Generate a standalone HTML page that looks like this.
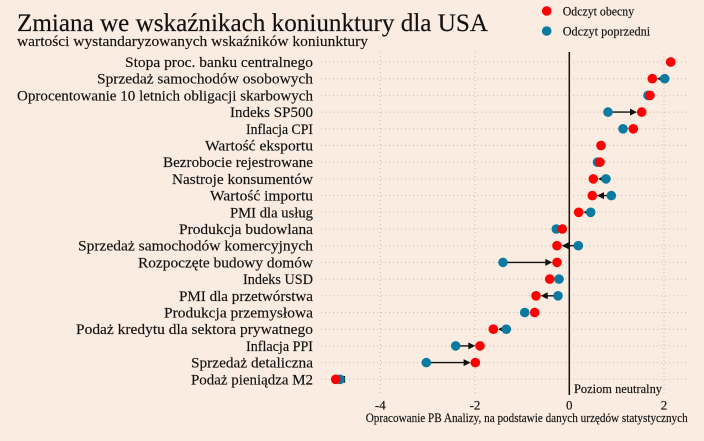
<!DOCTYPE html>
<html><head><meta charset="utf-8"><style>
html,body{margin:0;padding:0;background:#FAECE0;}
svg{display:block;}
text{font-family:"Liberation Serif",serif;fill:#111;stroke:#111;stroke-width:0.15;}
</style></head><body>
<svg width="704" height="441" viewBox="0 0 704 441" xmlns="http://www.w3.org/2000/svg">
<rect x="0" y="0" width="704" height="441" fill="#FAECE0"/>
<text x="17" y="31" font-size="25" textLength="471" lengthAdjust="spacingAndGlyphs">Zmiana we wskaźnikach koniunktury dla USA</text>
<text x="17" y="46" font-size="14.5" textLength="351" lengthAdjust="spacingAndGlyphs">wartości wystandaryzowanych wskaźników koniunktury</text>
<circle cx="546.7" cy="11" r="4.8" fill="#FF0000"/>
<circle cx="546.7" cy="31" r="4.8" fill="#0B7AA0"/>
<text x="562.7" y="15.5" font-size="13" textLength="71.5" lengthAdjust="spacingAndGlyphs">Odczyt obecny</text>
<text x="562.7" y="35.5" font-size="13" textLength="87.5" lengthAdjust="spacingAndGlyphs">Odczyt poprzedni</text>
<g stroke="#C9BDB2" stroke-width="1" stroke-dasharray="1,3">
<line x1="321" y1="62" x2="687" y2="62"/>
<line x1="321" y1="78.7" x2="687" y2="78.7"/>
<line x1="321" y1="95.4" x2="687" y2="95.4"/>
<line x1="321" y1="112.1" x2="687" y2="112.1"/>
<line x1="321" y1="128.8" x2="687" y2="128.8"/>
<line x1="321" y1="145.5" x2="687" y2="145.5"/>
<line x1="321" y1="162.2" x2="687" y2="162.2"/>
<line x1="321" y1="178.9" x2="687" y2="178.9"/>
<line x1="321" y1="195.6" x2="687" y2="195.6"/>
<line x1="321" y1="212.3" x2="687" y2="212.3"/>
<line x1="321" y1="229" x2="687" y2="229"/>
<line x1="321" y1="245.7" x2="687" y2="245.7"/>
<line x1="321" y1="262.4" x2="687" y2="262.4"/>
<line x1="321" y1="279.1" x2="687" y2="279.1"/>
<line x1="321" y1="295.8" x2="687" y2="295.8"/>
<line x1="321" y1="312.5" x2="687" y2="312.5"/>
<line x1="321" y1="329.2" x2="687" y2="329.2"/>
<line x1="321" y1="345.9" x2="687" y2="345.9"/>
<line x1="321" y1="362.6" x2="687" y2="362.6"/>
<line x1="321" y1="379.3" x2="687" y2="379.3"/>
<line x1="380.3" y1="52" x2="380.3" y2="395"/>
<line x1="475" y1="52" x2="475" y2="395"/>
<line x1="664" y1="52" x2="664" y2="395"/>
</g>
<line x1="569.3" y1="52" x2="569.3" y2="395" stroke="#111" stroke-width="1.5"/>
<g font-size="14.5" text-anchor="end">
<text x="313" y="67" textLength="188" lengthAdjust="spacingAndGlyphs">Stopa proc. banku centralnego</text>
<text x="313" y="83.7" textLength="216" lengthAdjust="spacingAndGlyphs">Sprzedaż samochodów osobowych</text>
<text x="313" y="100.4" textLength="296" lengthAdjust="spacingAndGlyphs">Oprocentowanie 10 letnich obligacji skarbowych</text>
<text x="313" y="117.1" textLength="83" lengthAdjust="spacingAndGlyphs">Indeks SP500</text>
<text x="313" y="133.8" textLength="67" lengthAdjust="spacingAndGlyphs">Inflacja CPI</text>
<text x="313" y="150.5" textLength="108" lengthAdjust="spacingAndGlyphs">Wartość eksportu</text>
<text x="313" y="167.2" textLength="150" lengthAdjust="spacingAndGlyphs">Bezrobocie rejestrowane</text>
<text x="313" y="183.9" textLength="141" lengthAdjust="spacingAndGlyphs">Nastroje konsumentów</text>
<text x="313" y="200.6" textLength="103" lengthAdjust="spacingAndGlyphs">Wartość importu</text>
<text x="313" y="217.3" textLength="83" lengthAdjust="spacingAndGlyphs">PMI dla usług</text>
<text x="313" y="234" textLength="134" lengthAdjust="spacingAndGlyphs">Produkcja budowlana</text>
<text x="313" y="250.7" textLength="235" lengthAdjust="spacingAndGlyphs">Sprzedaż samochodów komercyjnych</text>
<text x="313" y="267.4" textLength="175" lengthAdjust="spacingAndGlyphs">Rozpoczęte budowy domów</text>
<text x="313" y="284.1" textLength="70" lengthAdjust="spacingAndGlyphs">Indeks USD</text>
<text x="313" y="300.8" textLength="134" lengthAdjust="spacingAndGlyphs">PMI dla przetwórstwa</text>
<text x="313" y="317.5" textLength="149" lengthAdjust="spacingAndGlyphs">Produkcja przemysłowa</text>
<text x="313" y="334.2" textLength="237" lengthAdjust="spacingAndGlyphs">Podaż kredytu dla sektora prywatnego</text>
<text x="313" y="350.9" textLength="67" lengthAdjust="spacingAndGlyphs">Inflacja PPI</text>
<text x="313" y="367.6" textLength="122" lengthAdjust="spacingAndGlyphs">Sprzedaż detaliczna</text>
<text x="313" y="384.3" textLength="122" lengthAdjust="spacingAndGlyphs">Podaż pieniądza M2</text>
</g>
<g stroke="#111" stroke-width="1.4" fill="#111">
<line x1="664.7" y1="78.7" x2="663" y2="78.7"/><polygon points="657,78.7 664,75.2 664,82.2" stroke="none"/>
<line x1="608" y1="112.1" x2="630" y2="112.1"/><polygon points="637,112.1 630,108.6 630,115.6" stroke="none"/>
<polygon points="628.6,128.8 621.6,125.3 621.6,132.3" stroke="none"/>
<polygon points="598,178.9 605,175.4 605,182.4" stroke="none"/>
<line x1="611.3" y1="195.6" x2="603" y2="195.6"/><polygon points="597,195.6 604,192.1 604,199.1" stroke="none"/>
<polygon points="583.4,212.3 590.4,208.8 590.4,215.8" stroke="none"/>
<line x1="578.3" y1="245.7" x2="567" y2="245.7"/><polygon points="561.7,245.7 568.7,242.2 568.7,249.2" stroke="none"/>
<line x1="503" y1="262.4" x2="546" y2="262.4"/><polygon points="552.3,262.4 545.3,258.9 545.3,265.9" stroke="none"/>
<line x1="558" y1="295.8" x2="546" y2="295.8"/><polygon points="540.7,295.8 547.7,292.3 547.7,299.3" stroke="none"/>
<polygon points="498,329.2 505,325.7 505,332.7" stroke="none"/>
<line x1="455.7" y1="345.9" x2="470" y2="345.9"/><polygon points="475.3,345.9 468.3,342.4 468.3,349.4" stroke="none"/>
<line x1="426.3" y1="362.6" x2="465" y2="362.6"/><polygon points="470.6,362.6 463.6,359.1 463.6,366.1" stroke="none"/>
<rect x="343.5" y="376" width="1.6" height="6.6" stroke="none"/>
</g>
<g fill="#0B7AA0">
<circle cx="670.7" cy="62" r="4.8"/>
<circle cx="664.7" cy="78.7" r="4.8"/>
<circle cx="648" cy="95.4" r="4.8"/>
<circle cx="608" cy="112.1" r="4.8"/>
<circle cx="623" cy="128.8" r="4.8"/>
<circle cx="601" cy="145.5" r="4.8"/>
<circle cx="597.5" cy="162.2" r="4.8"/>
<circle cx="606" cy="178.9" r="4.8"/>
<circle cx="611.3" cy="195.6" r="4.8"/>
<circle cx="590.7" cy="212.3" r="4.8"/>
<circle cx="556.3" cy="229" r="4.8"/>
<circle cx="578.3" cy="245.7" r="4.8"/>
<circle cx="503" cy="262.4" r="4.8"/>
<circle cx="559" cy="279.1" r="4.8"/>
<circle cx="558" cy="295.8" r="4.8"/>
<circle cx="524.7" cy="312.5" r="4.8"/>
<circle cx="506.3" cy="329.2" r="4.8"/>
<circle cx="455.7" cy="345.9" r="4.8"/>
<circle cx="426.3" cy="362.6" r="4.8"/>
<circle cx="340" cy="379.3" r="4.8"/>
</g>
<g fill="#FF0000">
<circle cx="670.7" cy="62" r="4.8"/>
<circle cx="652.3" cy="78.7" r="4.8"/>
<circle cx="650" cy="95.4" r="4.8"/>
<circle cx="641.7" cy="112.1" r="4.8"/>
<circle cx="633.3" cy="128.8" r="4.8"/>
<circle cx="601" cy="145.5" r="4.8"/>
<circle cx="600" cy="162.2" r="4.8"/>
<circle cx="593.3" cy="178.9" r="4.8"/>
<circle cx="592.3" cy="195.6" r="4.8"/>
<circle cx="578.7" cy="212.3" r="4.8"/>
<circle cx="562.3" cy="229" r="4.8"/>
<circle cx="557" cy="245.7" r="4.8"/>
<circle cx="557" cy="262.4" r="4.8"/>
<circle cx="549.7" cy="279.1" r="4.8"/>
<circle cx="536" cy="295.8" r="4.8"/>
<circle cx="534.7" cy="312.5" r="4.8"/>
<circle cx="493.3" cy="329.2" r="4.8"/>
<circle cx="480" cy="345.9" r="4.8"/>
<circle cx="475.3" cy="362.6" r="4.8"/>
<circle cx="335.7" cy="379.3" r="4.8"/>
</g>
<text x="574" y="393" font-size="13" textLength="88" lengthAdjust="spacingAndGlyphs">Poziom neutralny</text>
<g font-size="13" text-anchor="middle">
<text x="380.3" y="409.5">-4</text>
<text x="475" y="409.5">-2</text>
<text x="569.3" y="409.5">0</text>
<text x="664" y="409.5">2</text>
</g>
<text x="365.7" y="422" font-size="12.5" textLength="322" lengthAdjust="spacingAndGlyphs">Opracowanie PB Analizy, na podstawie danych urzędów statystycznych</text>
</svg>
</body></html>
